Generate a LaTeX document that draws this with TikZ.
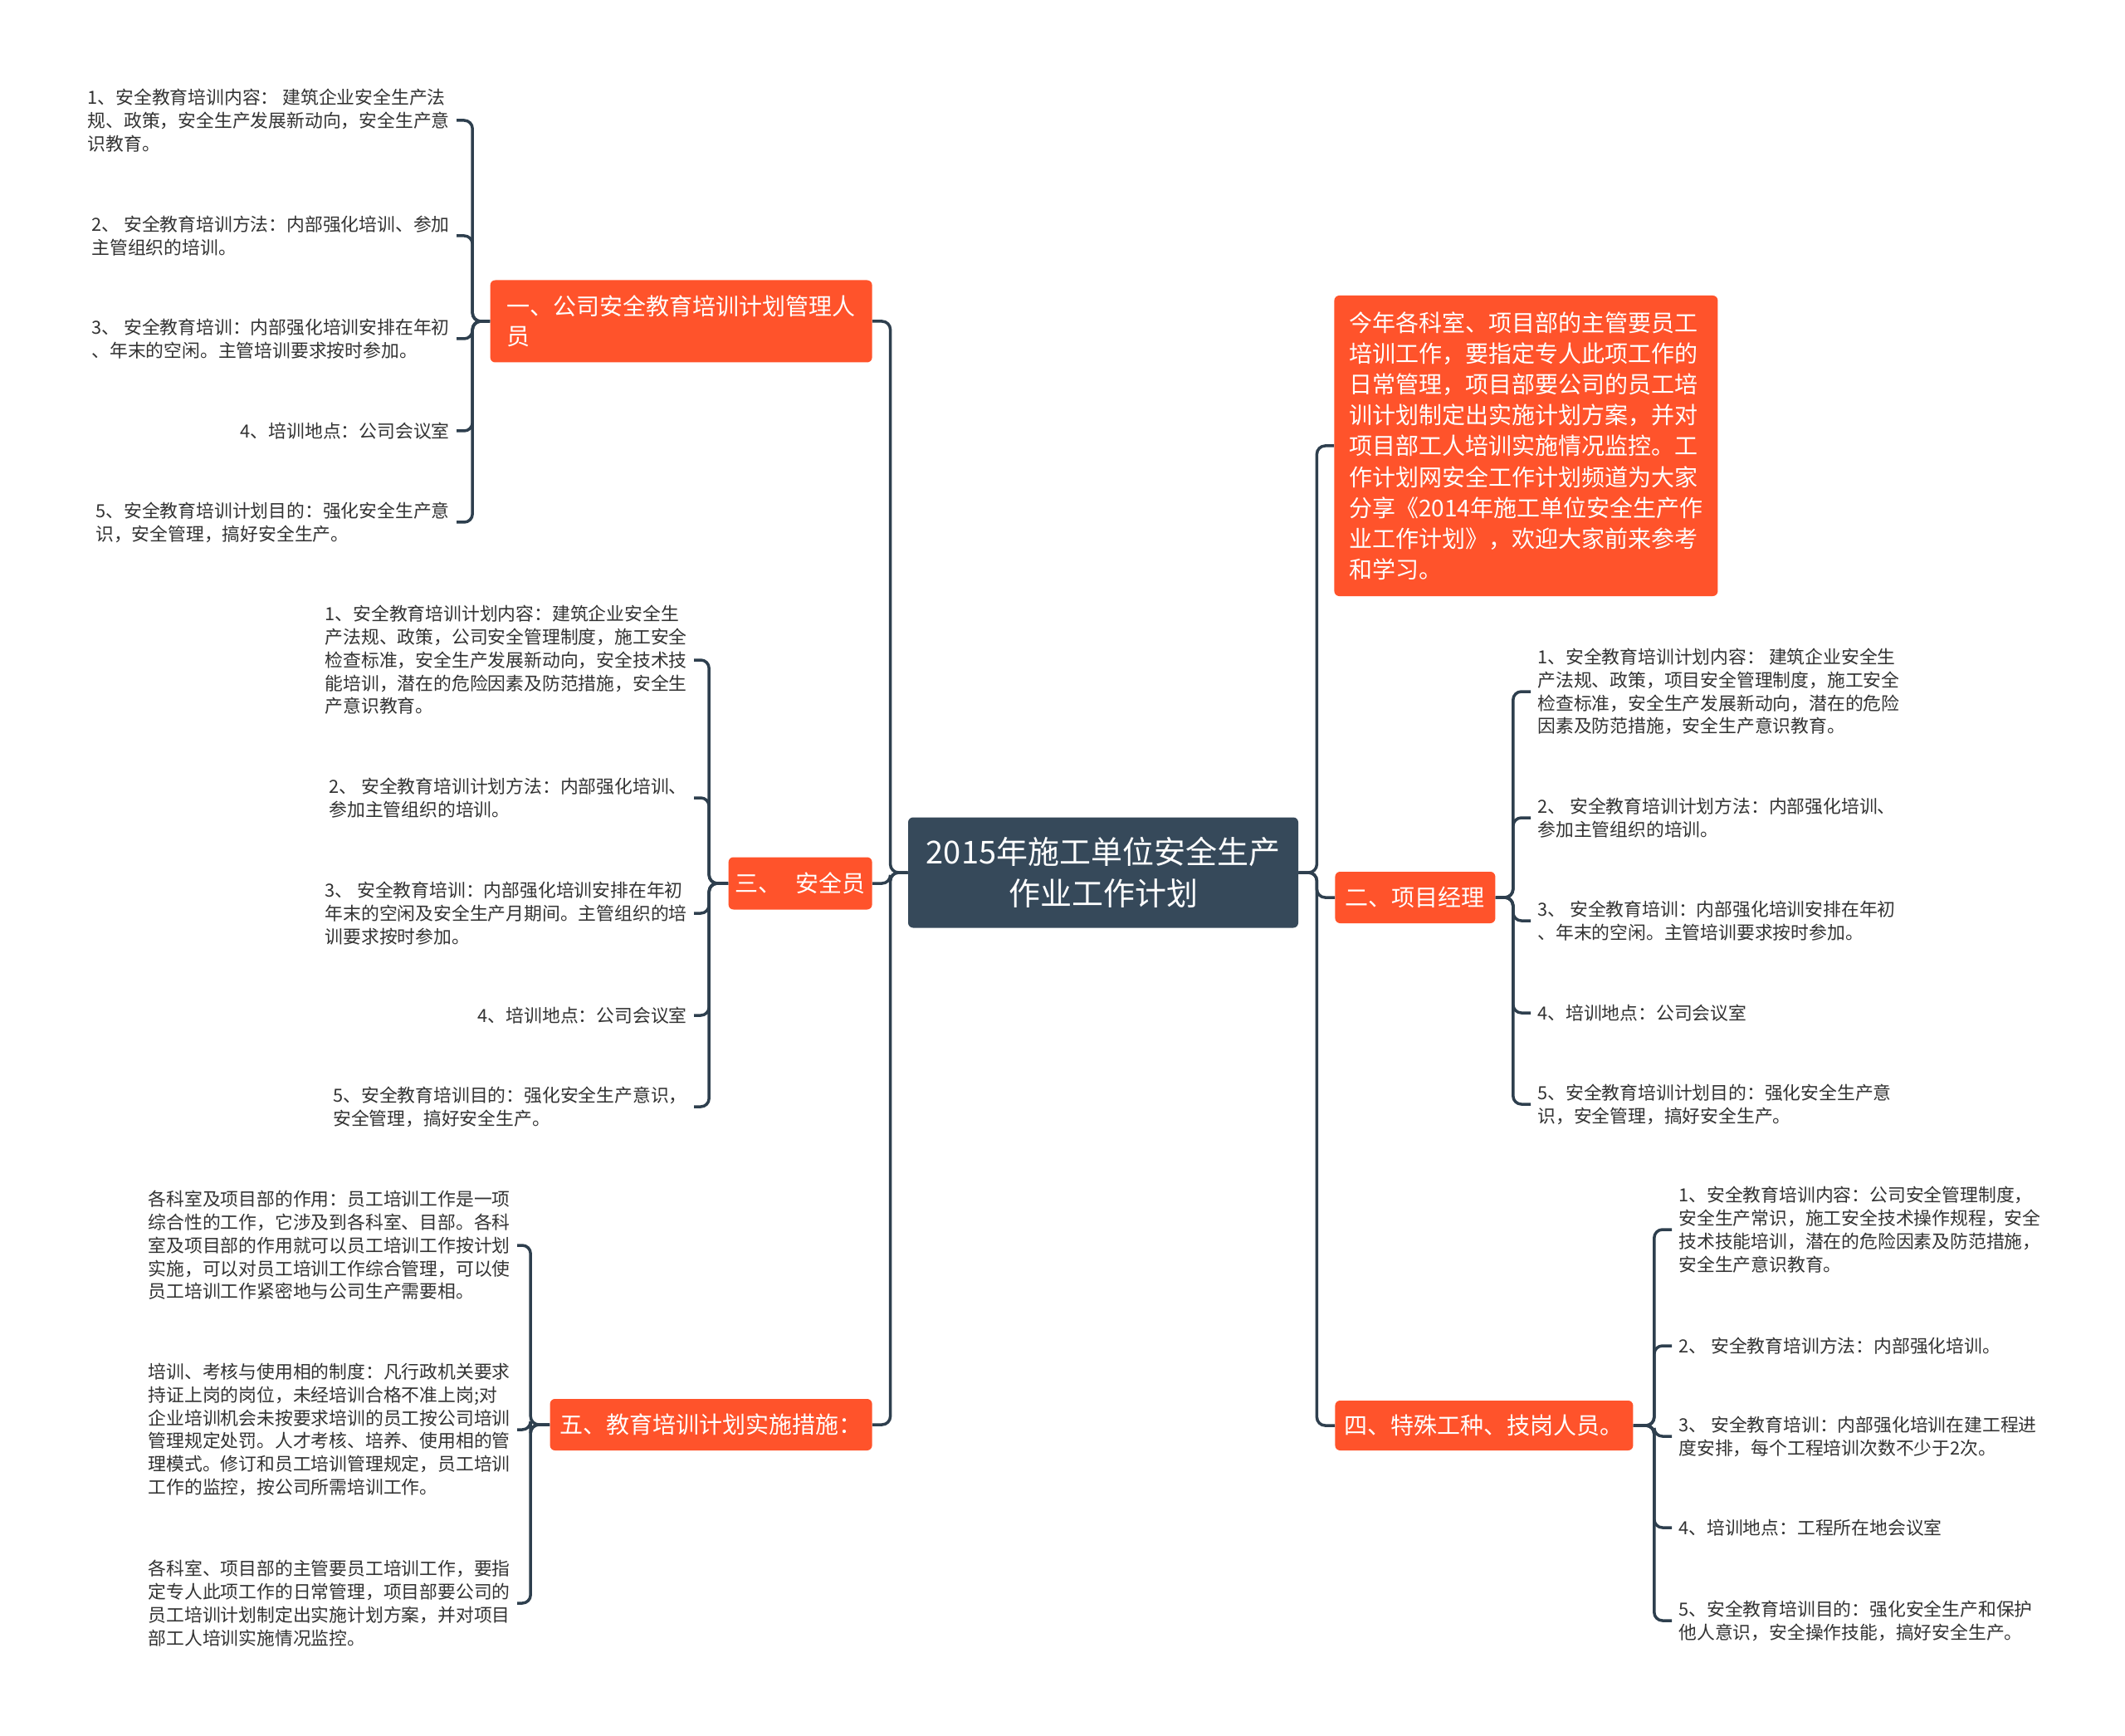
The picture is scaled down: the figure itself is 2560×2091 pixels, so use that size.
\documentclass[tikz,border=0pt]{standalone}
\usepackage{fontspec}
\setmainfont{Noto Sans CJK SC}
\usepackage{tikz}
\definecolor{jiedian}{HTML}{FF532B}
\definecolor{genjie}{HTML}{36495A}
\definecolor{lianxian}{HTML}{2E3F4E}
\definecolor{wenzi}{HTML}{333333}
\tikzset{
  rootbox/.style={fill=genjie, text=white, rounded corners=3pt, align=center,
    font=\fontsize{19pt}{25pt}\selectfont, minimum width=235pt, minimum height=66.5pt, inner sep=0pt},
  branchbox/.style={fill=jiedian, text=white, rounded corners=3pt, align=left,
    font=\fontsize{14pt}{18pt}\selectfont, inner sep=0pt},
  leafl/.style={anchor=east, align=left, text=wenzi,
    font=\fontsize{10.9pt}{13.9pt}\selectfont, inner xsep=4pt, inner ysep=1pt},
  leafr/.style={leafl, anchor=west},
  conn/.style={draw=lianxian, line width=1.75pt, rounded corners=5pt},
}
\begin{document}
\begin{tikzpicture}[x=0.5pt,y=-0.5pt]
\fill[white] (0,0) rectangle (2560,2091);
\useasboundingbox (0,0) rectangle (2560,2091);
% centre
\node[rootbox] (root) at (1329,1051) {2015年施工单位安全生产\\作业工作计划};
% left branches
\node[branchbox, anchor=east, minimum width=230pt, minimum height=49.5pt] (b1) at (1051,387) {一、公司安全教育培训计划管理人\\员};
\node[branchbox, anchor=east, minimum width=86.5pt, minimum height=31.5pt] (b3) at (1051,1064) {三、\hspace{0.6em}安全员};
\node[branchbox, anchor=east, minimum width=194pt, minimum height=31pt] (b5) at (1051,1716) {五、教育培训计划实施措施：};
% right branches
\node[branchbox, anchor=west, minimum width=231pt, minimum height=181pt,
  font=\fontsize{14pt}{18.6pt}\selectfont] (intro) at (1607,537) {今年各科室、项目部的主管要员工\\培训工作，要指定专人此项工作的\\日常管理，项目部要公司的员工培\\训计划制定出实施计划方案，并对\\项目部工人培训实施情况监控。工\\作计划网安全工作计划频道为大家\\分享《2014年施工单位安全生产作\\业工作计划》，欢迎大家前来参考\\和学习。};
\node[branchbox, anchor=west, minimum width=96.5pt, minimum height=31pt] (b2) at (1608,1081) {二、项目经理};
\node[branchbox, anchor=west, minimum width=179.5pt, minimum height=30pt] (b4) at (1608,1717) {四、特殊工种、技岗人员。};

% leaves of b1
\node[leafl] (a1) at (550,145) {1、安全教育培训内容： 建筑企业安全生产法\\规、政策，安全生产发展新动向，安全生产意\\识教育。};
\node[leafl] (a2) at (550,284) {2、 安全教育培训方法：内部强化培训、参加\\主管组织的培训。};
\node[leafl] (a3) at (550,408) {3、 安全教育培训：内部强化培训安排在年初\\、年末的空闲。主管培训要求按时参加。};
\node[leafl] (a4) at (550,519) {4、培训地点：公司会议室};
\node[leafl] (a5) at (550,629) {5、安全教育培训计划目的：强化安全生产意\\识，安全管理，搞好安全生产。};

% leaves of b3
\node[leafl] (c1) at (836,795) {1、安全教育培训计划内容：建筑企业安全生\\产法规、政策，公司安全管理制度，施工安全\\检查标准，安全生产发展新动向，安全技术技\\能培训，潜在的危险因素及防范措施，安全生\\产意识教育。};
\node[leafl] (c2) at (836,961) {2、 安全教育培训计划方法：内部强化培训、\\参加主管组织的培训。};
\node[leafl] (c3) at (836,1100) {3、 安全教育培训：内部强化培训安排在年初\\年末的空闲及安全生产月期间。主管组织的培\\训要求按时参加。};
\node[leafl] (c4) at (836,1223) {4、培训地点：公司会议室};
\node[leafl] (c5) at (836,1333) {5、安全教育培训目的：强化安全生产意识，\\安全管理，搞好安全生产。};

% leaves of b5
\node[leafl] (e1) at (623,1500) {各科室及项目部的作用：员工培训工作是一项\\综合性的工作，它涉及到各科室、目部。各科\\室及项目部的作用就可以员工培训工作按计划\\实施，可以对员工培训工作综合管理，可以使\\员工培训工作紧密地与公司生产需要相。};
\node[leafl] (e2) at (623,1722) {培训、考核与使用相的制度：凡行政机关要求\\持证上岗的岗位，未经培训合格不准上岗;对\\企业培训机会未按要求培训的员工按公司培训\\管理规定处罚。人才考核、培养、使用相的管\\理模式。修订和员工培训管理规定，员工培训\\工作的监控，按公司所需培训工作。};
\node[leafl] (e3) at (623,1931) {各科室、项目部的主管要员工培训工作，要指\\定专人此项工作的日常管理，项目部要公司的\\员工培训计划制定出实施计划方案，并对项目\\部工人培训实施情况监控。};

% leaves of b2
\node[leafr] (d1) at (1844,833) {1、安全教育培训计划内容： 建筑企业安全生\\产法规、政策，项目安全管理制度，施工安全\\检查标准，安全生产发展新动向，潜在的危险\\因素及防范措施，安全生产意识教育。};
\node[leafr] (d2) at (1844,985) {2、 安全教育培训计划方法：内部强化培训、\\参加主管组织的培训。};
\node[leafr] (d3) at (1844,1109) {3、 安全教育培训：内部强化培训安排在年初\\、年末的空闲。主管培训要求按时参加。};
\node[leafr] (d4) at (1844,1220) {4、培训地点：公司会议室};
\node[leafr] (d5) at (1844,1330) {5、安全教育培训计划目的：强化安全生产意\\识，安全管理，搞好安全生产。};

% leaves of b4
\node[leafr] (f1) at (2014,1481) {1、安全教育培训内容：公司安全管理制度，\\安全生产常识，施工安全技术操作规程，安全\\技术技能培训，潜在的危险因素及防范措施，\\安全生产意识教育。};
\node[leafr] (f2) at (2014,1621) {2、 安全教育培训方法：内部强化培训。};
\node[leafr] (f3) at (2014,1730) {3、 安全教育培训：内部强化培训在建工程进\\度安排，每个工程培训次数不少于2次。};
\node[leafr] (f4) at (2014,1840) {4、培训地点：工程所在地会议室};
\node[leafr] (f5) at (2014,1952) {5、安全教育培训目的：强化安全生产和保护\\他人意识，安全操作技能，搞好安全生产。};

% connectors
\foreach \b in {b1,b3,b5}
  \draw[conn] (root.west) -- ++(-21,0) |- (\b.east);
\foreach \b in {intro,b2,b4}
  \draw[conn] (root.east) -- ++(22,0) |- (\b.west);
\foreach \l in {a1,a2,a3,a4,a5}
  \draw[conn] (b1.west) -- ++(-21,0) |- (\l.east);
\foreach \l in {c1,c2,c3,c4,c5}
  \draw[conn] (b3.west) -- ++(-23,0) |- (\l.east);
\foreach \l in {e1,e2,e3}
  \draw[conn] (b5.west) -- ++(-23,0) |- (\l.east);
\foreach \l in {d1,d2,d3,d4,d5}
  \draw[conn] (b2.east) -- ++(21,0) |- (\l.west);
\foreach \l in {f1,f2,f3,f4,f5}
  \draw[conn] (b4.east) -- ++(25,0) |- (\l.west);
\end{tikzpicture}
\end{document}
